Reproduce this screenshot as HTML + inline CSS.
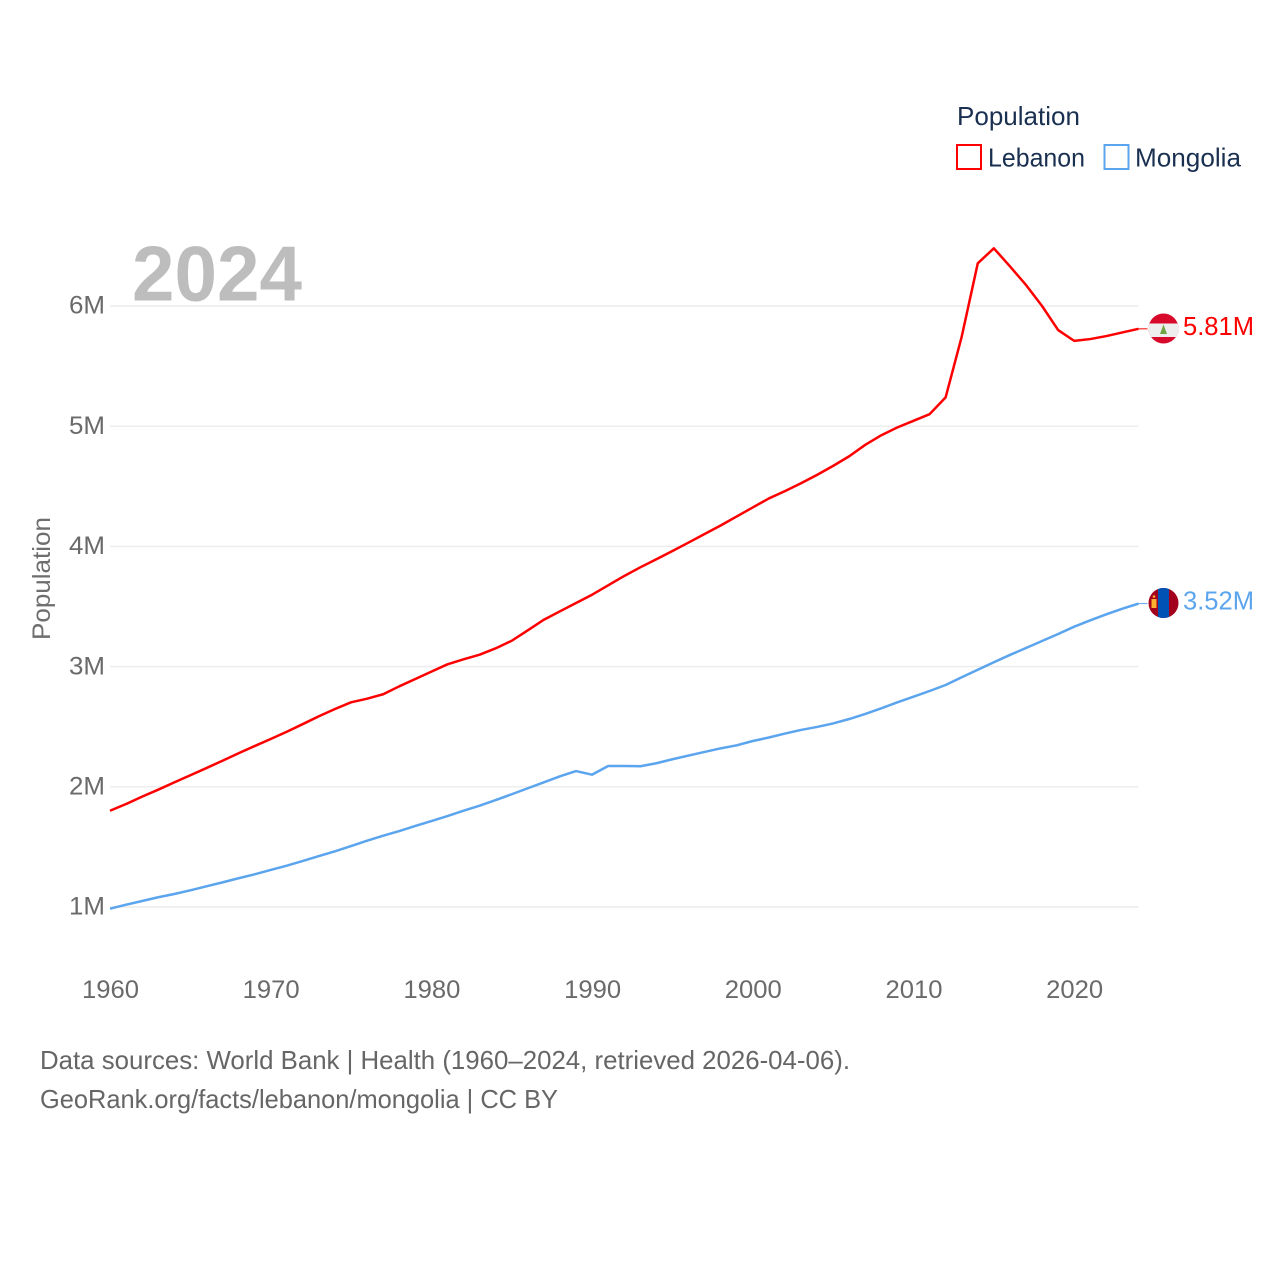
<!DOCTYPE html>
<html lang="en">
<head>
<meta charset="utf-8">
<title>Population: Lebanon vs Mongolia</title>
<style>
html,body{margin:0;padding:0;background:#fff;width:1280px;height:1280px;overflow:hidden}
svg{display:block}
text{font-family:"Liberation Sans",sans-serif}
</style>
</head>
<body>
<svg id="chart" xmlns="http://www.w3.org/2000/svg" width="1280" height="1280" viewBox="0 0 1280 1280">
  <rect x="0" y="0" width="1280" height="1280" fill="#ffffff"/>
  <g id="grid"></g>
  <text x="132" y="300.5" font-size="78" font-weight="700" fill="#bdbdbd" textLength="170" lengthAdjust="spacingAndGlyphs">2024</text>
  <g id="yticks"></g>
  <g id="xticks"></g>
  <text transform="translate(50,640) rotate(-90)" font-size="25" fill="#6e6e6e" textLength="123" lengthAdjust="spacingAndGlyphs">Population</text>
  <g id="series"></g>

  <g>
    <text x="957" y="125" font-size="26" fill="#1a3050" textLength="123" lengthAdjust="spacingAndGlyphs">Population</text>
    <g>
      <rect x="957" y="145" width="24" height="24" fill="none" stroke="#ff0000" stroke-width="2"/>
      <text x="988" y="166.5" font-size="26" fill="#1a3050" textLength="97" lengthAdjust="spacingAndGlyphs">Lebanon</text>
    </g>
    <g>
      <rect x="1104.5" y="145" width="24" height="24" fill="none" stroke="#5ba4ee" stroke-width="2"/>
      <text x="1135" y="166.5" font-size="26" fill="#1a3050" textLength="106" lengthAdjust="spacingAndGlyphs">Mongolia</text>
    </g>
  </g>

  <defs>
    <clipPath id="clip-lb"><circle cx="1163.5" cy="328.5" r="15"/></clipPath>
    <clipPath id="clip-mn"><circle cx="1163.5" cy="603" r="15"/></clipPath>
  </defs>
  <g clip-path="url(#clip-lb)">
    <rect x="1148" y="313" width="31" height="31" fill="#d80a2c"/>
    <rect x="1148" y="323.5" width="31" height="13.5" fill="#eeeeee"/>
    <polygon points="1163.5,324.5 1167,334 1160,334" fill="#6da544"/>
  </g>
  <g clip-path="url(#clip-mn)">
    <rect x="1148" y="588" width="31" height="31" fill="#a2001d"/>
    <rect x="1158" y="588" width="11" height="31" fill="#0052b4"/>
    <rect x="1151.5" y="599" width="5" height="9" fill="#ffb02e"/>
    <circle cx="1154" cy="596.5" r="1.3" fill="#ffb02e"/>
  </g>
  <text x="1183" y="335" font-size="25.5" fill="#ff0000" textLength="71" lengthAdjust="spacingAndGlyphs">5.81M</text>
  <text x="1183" y="609.5" font-size="25.5" fill="#5ba4ee" textLength="71" lengthAdjust="spacingAndGlyphs">3.52M</text>

  <text x="40" y="1069" font-size="26" fill="#666666" textLength="810" lengthAdjust="spacingAndGlyphs">Data sources: World Bank | Health (1960–2024, retrieved 2026-04-06).</text>
  <text x="40" y="1108" font-size="26" fill="#666666" textLength="518" lengthAdjust="spacingAndGlyphs">GeoRank.org/facts/lebanon/mongolia | CC BY</text>
</svg>
<script>
const startYear = 1960;
const lebanon = [1.801,1.857,1.918,1.976,2.037,2.096,2.156,2.217,2.279,2.339,2.398,2.458,2.522,2.587,2.647,2.703,2.733,2.770,2.836,2.897,2.958,3.019,3.061,3.099,3.152,3.215,3.302,3.390,3.460,3.529,3.598,3.676,3.754,3.826,3.893,3.962,4.032,4.103,4.174,4.249,4.324,4.399,4.46,4.525,4.595,4.67,4.75,4.845,4.925,4.99,5.045,5.10,5.24,5.745,6.355,6.48,6.33,6.175,6.0,5.80,5.71,5.725,5.75,5.78,5.81];
const mongolia = [0.986,1.019,1.05,1.081,1.108,1.139,1.172,1.205,1.239,1.272,1.308,1.344,1.383,1.424,1.463,1.507,1.552,1.593,1.632,1.674,1.715,1.757,1.801,1.843,1.89,1.938,1.988,2.037,2.087,2.131,2.101,2.173,2.173,2.171,2.196,2.229,2.26,2.29,2.32,2.345,2.381,2.41,2.443,2.473,2.498,2.527,2.564,2.606,2.653,2.703,2.750,2.797,2.847,2.911,2.974,3.036,3.097,3.155,3.213,3.271,3.332,3.385,3.435,3.482,3.524];
const yTicks = [1,2,3,4,5,6];
const yTickLabels = ["1M","2M","3M","4M","5M","6M"];
const xTicks = [1960,1970,1980,1990,2000,2010,2020];

const NS = "http://www.w3.org/2000/svg";
const xScale = function (year) { return 110 + (year - 1960) * 16.07; };
const yScale = function (v) { return 907 - (v - 1) * 120.2; };

const grid = document.getElementById("grid");
const yGroup = document.getElementById("yticks");
const xGroup = document.getElementById("xticks");
const seriesGroup = document.getElementById("series");

yTicks.forEach(function (t, i) {
  const line = document.createElementNS(NS, "line");
  
  
  line.setAttribute("x1", xScale(1960));
  line.setAttribute("x2", xScale(2024));
  line.setAttribute("y1", yScale(t));
  line.setAttribute("y2", yScale(t));
  line.setAttribute("stroke", "#ececec");
  line.setAttribute("stroke-width", "1.4");
  grid.appendChild(line);

  const label = document.createElementNS(NS, "text");
  
  
  label.setAttribute("x", 105);
  label.setAttribute("y", yScale(t) + 7.7);
  label.setAttribute("text-anchor", "end");
  label.setAttribute("font-size", "25");
  label.setAttribute("fill", "#6a6a6a");
  label.setAttribute("textLength", "36");
  label.setAttribute("lengthAdjust", "spacingAndGlyphs");
  label.textContent = yTickLabels[i];
  yGroup.appendChild(label);
});

xTicks.forEach(function (t) {
  const label = document.createElementNS(NS, "text");
  
  
  label.setAttribute("x", xScale(t) - 28);
  label.setAttribute("y", 998);
  label.setAttribute("font-size", "25");
  label.setAttribute("fill", "#6a6a6a");
  label.setAttribute("textLength", "57");
  label.setAttribute("lengthAdjust", "spacingAndGlyphs");
  label.textContent = String(t);
  xGroup.appendChild(label);
});

function buildPoints(values) {
  return values.map(function (v, i) {
    return xScale(startYear + i).toFixed(2) + "," + yScale(v).toFixed(2);
  }).join(" ");
}

const lebanonLine = document.createElementNS(NS, "polyline");


lebanonLine.setAttribute("points", buildPoints(lebanon));
lebanonLine.setAttribute("fill", "none");
lebanonLine.setAttribute("stroke", "#ff0000");
lebanonLine.setAttribute("stroke-width", "2.5");
lebanonLine.setAttribute("stroke-linejoin", "round");
seriesGroup.appendChild(lebanonLine);

const mongoliaLine = document.createElementNS(NS, "polyline");


mongoliaLine.setAttribute("points", buildPoints(mongolia));
mongoliaLine.setAttribute("fill", "none");
mongoliaLine.setAttribute("stroke", "#5ba4ee");
mongoliaLine.setAttribute("stroke-width", "2.5");
mongoliaLine.setAttribute("stroke-linejoin", "round");
seriesGroup.appendChild(mongoliaLine);

const lebanonConnector = document.createElementNS(NS, "line");


lebanonConnector.setAttribute("x1", xScale(2024));
lebanonConnector.setAttribute("x2", xScale(2024) + 9);
lebanonConnector.setAttribute("y1", yScale(lebanon[lebanon.length - 1]));
lebanonConnector.setAttribute("y2", yScale(lebanon[lebanon.length - 1]));
lebanonConnector.setAttribute("stroke", "#ff0000");
lebanonConnector.setAttribute("stroke-width", "1");
seriesGroup.appendChild(lebanonConnector);

const mongoliaConnector = document.createElementNS(NS, "line");


mongoliaConnector.setAttribute("x1", xScale(2024));
mongoliaConnector.setAttribute("x2", xScale(2024) + 9);
mongoliaConnector.setAttribute("y1", yScale(mongolia[mongolia.length - 1]));
mongoliaConnector.setAttribute("y2", yScale(mongolia[mongolia.length - 1]));
mongoliaConnector.setAttribute("stroke", "#5ba4ee");
mongoliaConnector.setAttribute("stroke-width", "1");
seriesGroup.appendChild(mongoliaConnector);
</script>
</body>
</html>
